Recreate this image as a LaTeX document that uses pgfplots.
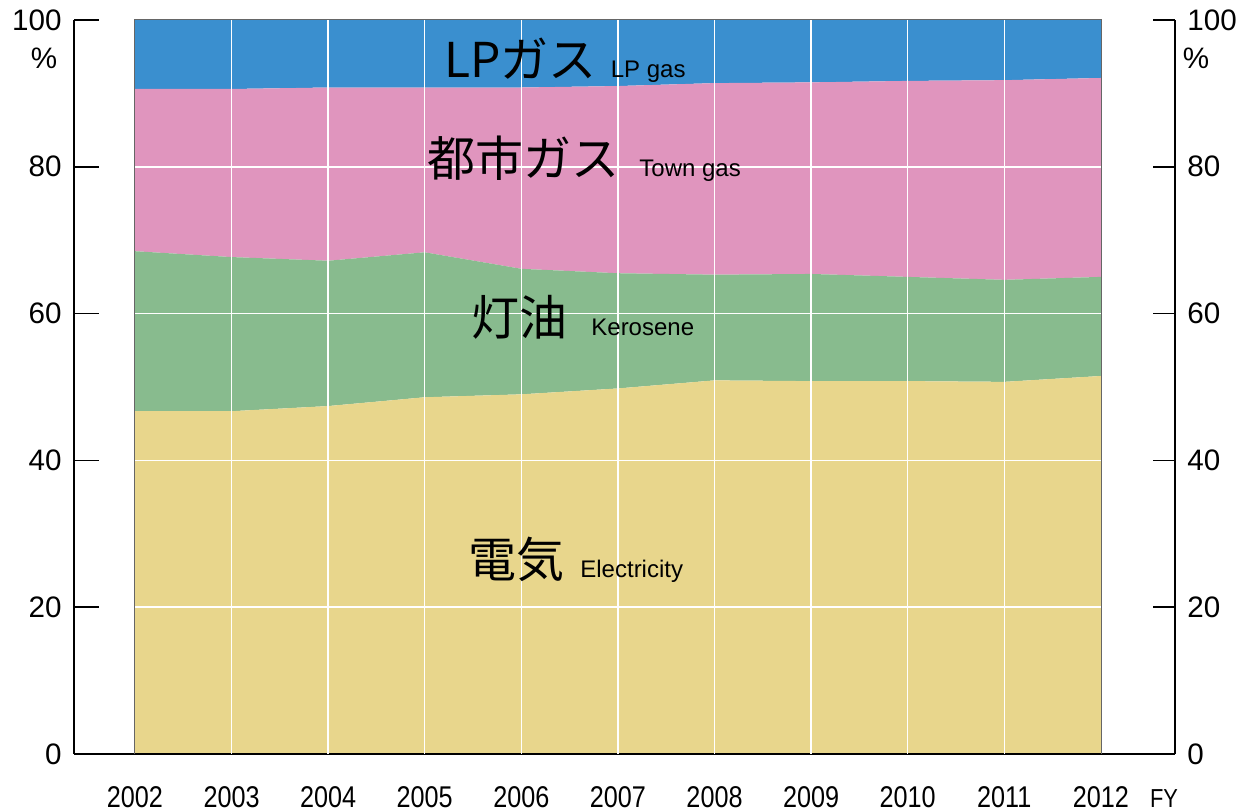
\documentclass[border=0pt]{standalone}
\usepackage{fontspec}
\setmainfont{Liberation Sans}
\newfontfamily\jp{Noto Sans CJK JP}
\usepackage{pgfplots}
\pgfplotsset{compat=1.18}
\usepackage{pgfplotstable}

\definecolor{cElec}{RGB}{232,214,140}
\definecolor{cKer}{RGB}{136,187,142}
\definecolor{cTown}{RGB}{224,149,190}
\definecolor{cLP}{RGB}{58,143,207}

\pgfplotstableread{
year elec ker town lp
2002 46.7 21.8 22.1 9.4
2003 46.7 21.0 22.9 9.4
2004 47.4 19.8 23.6 9.2
2005 48.6 19.75 22.45 9.2
2006 49.0 17.1 24.7 9.2
2007 49.8 15.7 25.5 9.0
2008 50.9 14.4 26.1 8.6
2009 50.8 14.6 26.1 8.5
2010 50.8 14.2 26.7 8.3
2011 50.7 13.9 27.2 8.2
2012 51.5 13.5 27.1 7.9
}\datatable

\pgfplotsset{
  common/.style={
    at={(0,0)}, anchor=south west,
    scale only axis, width=550.5pt, height=367pt,
    xmin=2001.369, xmax=2012.766, ymin=0, ymax=100,
    clip=false,
    /pgf/number format/assume math mode=true,
    /pgf/number format/1000 sep={},
  }
}

\begin{document}
\begin{tikzpicture}
\path[use as bounding box] (-37pt,-29pt) rectangle (589.5pt,377pt);
% main data axis
\begin{axis}[common,
  axis x line*=bottom, axis y line*=left,
  x axis line style={-, line width=1.3pt, black},
  y axis line style={draw=none},
  stack plots=y, axis on top,
  xtick={2002,...,2012},
  xtick style={draw=none},
  ytick=\empty,
  major tick length=0pt,
  xticklabel style={font=\fontsize{15}{18}\selectfont, anchor=base, inner sep=0pt, yshift=-27pt, xscale=0.84, transform shape},
  extra x ticks={2003,...,2011}, extra x tick labels={},
  extra x tick style={grid=major},
  extra y ticks={20,40,60,80}, extra y tick labels={},
  extra y tick style={grid=major},
  major grid style={white, line width=0.75pt},
]
\addplot[fill=cElec, draw=none, mark=none] table[x=year, y=elec]{\datatable} \closedcycle;
\addplot[fill=cKer, draw=none, mark=none] table[x=year, y=ker]{\datatable} \closedcycle;
\addplot[fill=cTown, draw=none, mark=none] table[x=year, y=town]{\datatable} \closedcycle;
\addplot[fill=cLP, draw=none, mark=none] table[x=year, y=lp]{\datatable} \closedcycle;
\end{axis}

% left y axis
\begin{axis}[common,
  axis x line=none, axis y line=left,
  axis line style={-, line width=1.3pt, black},
  every outer y axis line/.append style={-},
  ytick={0,20,...,100},
  tick align=inside, major tick length=12.5pt,
  ytick style={line width=0.8pt, black},
  yticklabel style={font=\fontsize{14.8}{17}\selectfont, anchor=east, inner sep=0pt, xshift=-6pt},
]
\addplot[draw=black!60, line width=0.5pt, mark=none] coordinates {(2002,0) (2002,100) (2012,100) (2012,0)};
\end{axis}

% right y axis
\begin{axis}[common,
  axis x line=none, axis y line=right,
  axis line style={-, line width=1.3pt, black},
  every outer y axis line/.append style={-},
  ytick={0,20,...,100},
  tick align=inside, major tick length=11pt,
  ytick style={line width=0.8pt, black},
  yticklabel style={font=\fontsize{14.8}{17}\selectfont, anchor=west, inner sep=0pt, xshift=6pt},
]
\end{axis}

% category labels
\node[anchor=base west, inner sep=0pt] at (185pt,338pt)
  {{\jp\fontsize{24}{28}\selectfont LPガス}\hspace{7pt}{\fontsize{12}{14}\selectfont LP gas}};
\node[anchor=base west, inner sep=0pt] at (176.5pt,288.5pt)
  {{\jp\fontsize{24}{28}\selectfont 都市ガス}\hspace{10pt}{\fontsize{12}{14}\selectfont Town gas}};
\node[anchor=base west, inner sep=0pt] at (198.5pt,209pt)
  {{\jp\fontsize{24}{28}\selectfont 灯油}\hspace{12pt}{\fontsize{12}{14}\selectfont Kerosene}};
\node[anchor=base west, inner sep=0pt] at (197pt,88pt)
  {{\jp\fontsize{24}{28}\selectfont 電気}\hspace{8pt}{\fontsize{12}{14}\selectfont Electricity}};

\node[font=\fontsize{14.8}{17}\selectfont, inner sep=0pt] at (-15pt,348pt) {\%};
\node[font=\fontsize{14.8}{17}\selectfont, inner sep=0pt] at (561pt,348pt) {\%};
\node[font=\fontsize{13}{15}\selectfont, anchor=base, inner sep=0pt, xscale=0.84, transform shape] at (545pt,-27pt) {FY};
\end{tikzpicture}
\end{document}
